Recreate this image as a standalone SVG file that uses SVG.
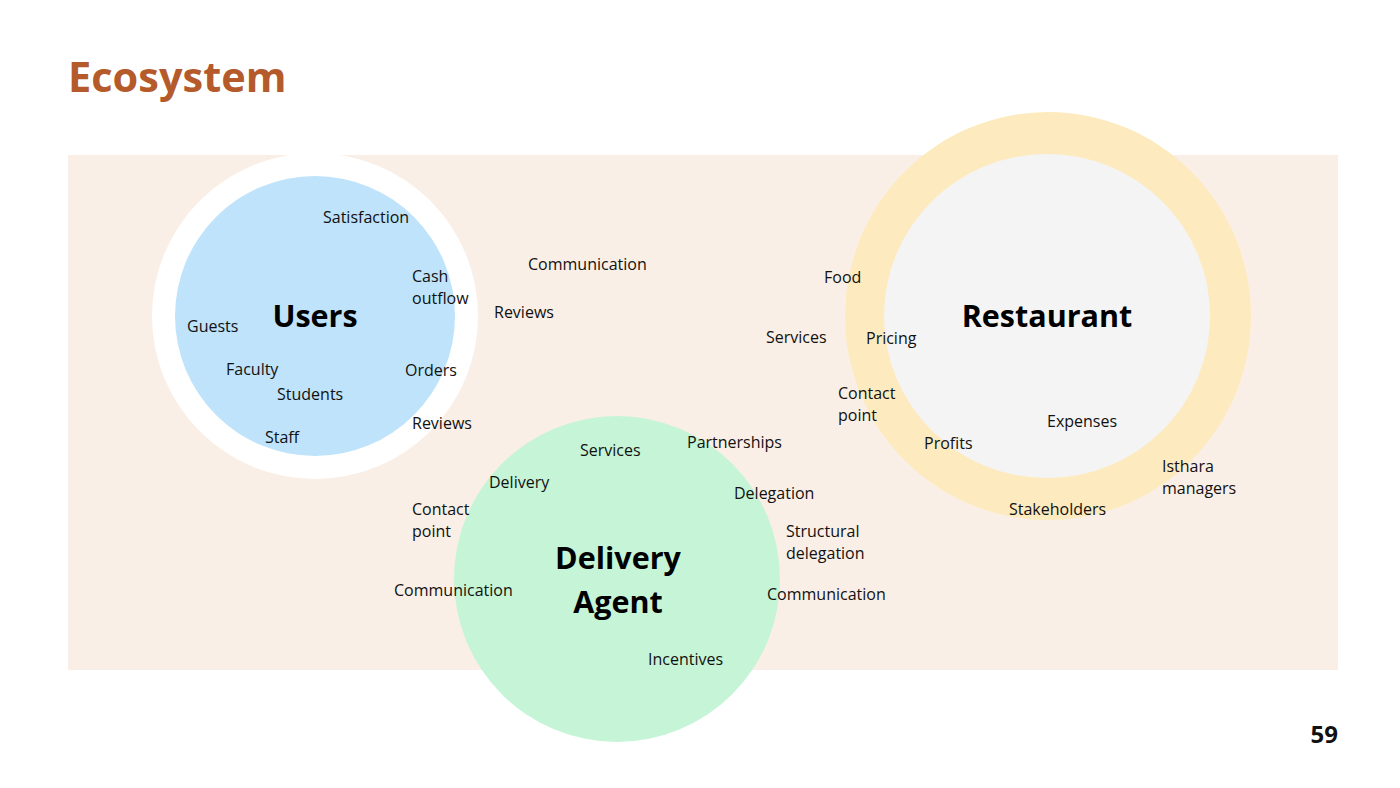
<svg xmlns="http://www.w3.org/2000/svg" width="1400" height="788" viewBox="0 0 1400 788">
<style>
.t{font-family:"Open Sans","Liberation Sans",sans-serif;font-size:16px;fill:#111}
.h{font-family:"Open Sans","Liberation Sans",sans-serif;font-size:30.5px;font-weight:700;fill:#000;text-anchor:middle}
</style>
<rect width="1400" height="788" fill="#fff"/>
<text x="68" y="92" font-family="Open Sans, Liberation Sans, sans-serif" font-size="41.5" font-weight="700" fill="#B45A2B">Ecosystem</text>
<rect x="68" y="155" width="1270" height="515" fill="#FAEFE6"/>
<g id="users">
<circle cx="315" cy="316" r="163" fill="#fff"/>
<circle cx="315" cy="316" r="140" fill="#BEE3FA"/>
<text class="h" x="315" y="327">Users</text>
</g>
<g id="restaurant">
<ellipse cx="1048" cy="316" rx="203" ry="204" fill="#FDEBBF"/>
<ellipse cx="1047" cy="316" rx="163" ry="162" fill="#F4F4F4"/>
<text class="h" x="1047" y="327">Restaurant</text>
</g>
<g id="delivery-agent">
<circle cx="617" cy="579" r="163" fill="#C5F5D6"/>
<text class="h" x="618" y="569">Delivery</text>
<text class="h" x="618" y="613">Agent</text>
</g>
<g id="connectors"></g>
<g id="labels">
<text class="t" x="323" y="223">Satisfaction</text>
<text class="t" x="412" y="282">Cash</text>
<text class="t" x="412" y="304">outflow</text>
<text class="t" x="187" y="332">Guests</text>
<text class="t" x="226" y="375">Faculty</text>
<text class="t" x="277" y="400">Students</text>
<text class="t" x="265" y="443">Staff</text>
<text class="t" x="405" y="376">Orders</text>
<text class="t" x="412" y="429">Reviews</text>
<text class="t" x="528" y="270">Communication</text>
<text class="t" x="494" y="318">Reviews</text>
<text class="t" x="824" y="283">Food</text>
<text class="t" x="766" y="343">Services</text>
<text class="t" x="866" y="344">Pricing</text>
<text class="t" x="838" y="399">Contact</text>
<text class="t" x="838" y="421">point</text>
<text class="t" x="924" y="449">Profits</text>
<text class="t" x="1047" y="427">Expenses</text>
<text class="t" x="1162" y="472">Isthara</text>
<text class="t" x="1162" y="494">managers</text>
<text class="t" x="1009" y="515">Stakeholders</text>
<text class="t" x="580" y="456">Services</text>
<text class="t" x="687" y="448">Partnerships</text>
<text class="t" x="489" y="488">Delivery</text>
<text class="t" x="734" y="499">Delegation</text>
<text class="t" x="412" y="515">Contact</text>
<text class="t" x="412" y="537">point</text>
<text class="t" x="786" y="537">Structural</text>
<text class="t" x="786" y="559">delegation</text>
<text class="t" x="394" y="596">Communication</text>
<text class="t" x="767" y="600">Communication</text>
<text class="t" x="648" y="665">Incentives</text>
</g>
<text x="1338" y="743" text-anchor="end" font-family="Open Sans, Liberation Sans, sans-serif" font-size="24" font-weight="700" fill="#111">59</text>
</svg>
